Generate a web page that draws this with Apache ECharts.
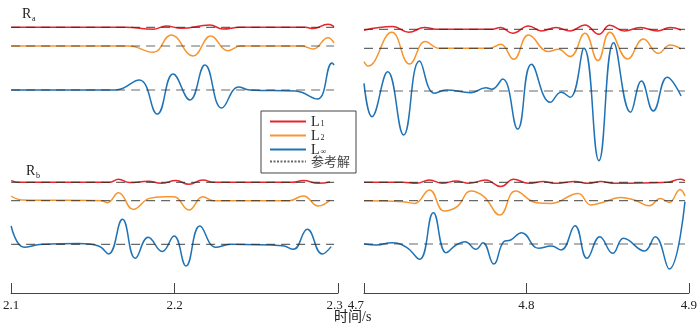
<!DOCTYPE html>
<html><head><meta charset="utf-8">
<script src="https://cdn.jsdelivr.net/npm/echarts@6/dist/echarts.min.js"></script>
<style>html,body{margin:0;padding:0;background:#fff}#c{width:700px;height:326px}</style>
</head><body><div id="c"></div>
<script>
// Tick values of the two time windows (s)
const xTicksLeft = [2.1, 2.2, 2.3];
const xTicksRight = [4.7, 4.8, 4.9];
const seriesNames = ['L1', 'L2', 'L∞', '参考解'];

// Traces: [time (s), deviation from reference]
const Ra_left_L1 = [[2.1,0],[2.170,0],[2.1869,-2],[2.1948,1.3],[2.204,-1],[2.2216,2.3],[2.2295,-1.7],[2.240,0],[2.280,0],[2.2848,-1.3],[2.2939,3],[2.2976,0.7]];
const Ra_left_L2 = [[2.1,0],[2.172,0],[2.1869,-6.3],[2.1979,11],[2.2113,-10],[2.2222,10],[2.2325,-4.7],[2.2404,0],[2.278,0],[2.2848,-3],[2.2939,8.3],[2.2976,3]];
const Ra_left_Linf = [[2.1,0],[2.164,0],[2.1784,10],[2.1894,-24],[2.1991,16],[2.2094,-10],[2.2186,25],[2.2289,-18],[2.2392,3],[2.246,0],[2.274,-1],[2.2873,-9],[2.2964,27],[2.2976,25]];

const Ra_right_L1 = [[4.7,-1],[4.7177,2.7],[4.7275,-3],[4.7372,1.7],[4.746,0],[4.778,0],[4.7842,1.7],[4.7915,-4],[4.8013,3.3],[4.8092,-1.7],[4.8183,1.7],[4.8269,-1.7],[4.836,4.3],[4.8446,-5],[4.8513,4],[4.8604,-1.7],[4.8702,1.7],[4.8806,-1.7],[4.8885,1.7],[4.8952,-0.7]];
const Ra_right_L2 = [[4.7,-13.3],[4.7024,-17.7],[4.7171,16],[4.7281,-15.7],[4.7378,6.7],[4.7464,0],[4.777,0],[4.7842,4],[4.7921,-11],[4.8013,13.3],[4.8135,-3.3],[4.8196,-1],[4.8269,-8.3],[4.836,15],[4.844,-12.3],[4.8513,16],[4.8623,-10.7],[4.872,9.3],[4.8812,-5],[4.8885,3.3],[4.8952,-0.7]];
const Ra_right_Linf = [[4.7,7.7],[4.7049,-25.7],[4.7146,19.3],[4.7244,-44],[4.7342,30],[4.7433,-2.3],[4.7506,1],[4.7659,-1.7],[4.775,3.3],[4.7787,1.7],[4.7854,12],[4.7946,-38],[4.8031,26.7],[4.8147,-11.3],[4.8214,-1.3],[4.8269,-6.3],[4.8354,42.7],[4.8446,-69.7],[4.8537,48.3],[4.8641,-21.3],[4.8708,10],[4.8781,-20],[4.8867,13.7],[4.8952,-5]];

const Rb_left_L1 = [[2.1,1.7],[2.105,0],[2.16,0],[2.1657,3],[2.1724,-0.3],[2.1839,1],[2.1918,-1],[2.2009,1.7],[2.2088,-2],[2.2173,2.3],[2.224,0],[2.272,0],[2.2788,1.7],[2.2879,-1],[2.2952,0.3]];
const Rb_left_L2 = [[2.1,4.7],[2.1067,0.7],[2.1553,0],[2.159,-2],[2.1657,8],[2.1748,-8.7],[2.1845,2.3],[2.1936,4],[2.1997,4],[2.2088,-9.3],[2.2173,4],[2.224,0],[2.27,0],[2.2788,4.7],[2.2879,-5.3],[2.2952,0.7]];
const Rb_left_Linf = [[2.1,18.3],[2.1079,-3],[2.119,0],[2.1413,0.7],[2.1535,-1.7],[2.1596,-9.7],[2.1681,25],[2.176,-14],[2.1839,7],[2.1924,-7.3],[2.1997,8.3],[2.207,-21.7],[2.2155,18.3],[2.2252,-3],[2.2344,0],[2.266,-1.5],[2.2727,-5],[2.2812,15],[2.2903,-9.7],[2.2958,-2.3]];

const Rb_right_L1 = [[4.7,0],[4.7238,0],[4.7323,-1],[4.7403,2.3],[4.7482,-1],[4.7567,1.3],[4.7647,-1],[4.775,2.3],[4.7842,-4.3],[4.7921,3],[4.8013,-1],[4.8104,0.7],[4.8177,-1],[4.8299,0.7],[4.8379,-1],[4.8458,0.7],[4.8543,-1],[4.8867,0],[4.8946,3],[4.8976,1.7]];
const Rb_right_L2 = [[4.7,0],[4.7238,-1],[4.7311,-2.7],[4.7403,10.7],[4.7494,-10.3],[4.7573,-6],[4.7659,9.7],[4.7738,4],[4.7836,-14.3],[4.7933,9.7],[4.8061,-2],[4.8153,-2.7],[4.8318,7.3],[4.8397,-4.3],[4.8482,-1],[4.858,3.3],[4.8665,0.7],[4.8757,-5],[4.8824,2.3],[4.8879,-1.7],[4.8946,11.3],[4.8976,4.7]];
const Rb_right_Linf = [[4.7,0],[4.7079,-1],[4.7171,1.3],[4.7262,-3.3],[4.7342,-15.3],[4.7427,31.3],[4.7506,-8.7],[4.7567,-1],[4.7622,2.3],[4.7689,-5.3],[4.7732,1.3],[4.7799,-20],[4.786,2.3],[4.7903,4],[4.797,11.3],[4.8074,-4.3],[4.8153,-2],[4.8214,-6],[4.8299,18.3],[4.8373,-14.3],[4.8452,7.3],[4.8531,-9.3],[4.8598,5.7],[4.8726,-7],[4.8793,7.3],[4.8879,-25],[4.8976,42.3]];

// Reference solution (zero deviation) over each window
const ref_left = [[2.1,0],[2.2976,0]];
const ref_right = [[4.7,0],[4.8976,0]];

// ---- layout (vertical offsets of each trace, in axis units) ----
const colors = {'L1':'#e5262b', 'L2':'#f7952f', 'L∞':'#1f72b6', '参考解':'rgba(45,45,45,0.72)'};
const panels = [
  {g:0, ref:ref_left,  rows:[['L1',Ra_left_L1,265.7],['L2',Ra_left_L2,247],['L∞',Ra_left_Linf,203]]},
  {g:1, ref:ref_right, rows:[['L1',Ra_right_L1,263.7],['L2',Ra_right_L2,244.7],['L∞',Ra_right_Linf,202]]},
  {g:0, ref:ref_left,  rows:[['L1',Rb_left_L1,110.7],['L2',Rb_left_L2,92.3],['L∞',Rb_left_Linf,48.7]]},
  {g:1, ref:ref_right, rows:[['L1',Rb_right_L1,110.7],['L2',Rb_right_L2,92.3],['L∞',Rb_right_Linf,49]]}
];

const series = [];
panels.forEach(p => {
  p.rows.slice().reverse().forEach(([name, data, base]) => {
    series.push({type:'line', name, xAxisIndex:p.g, yAxisIndex:p.g, smooth:0.45, symbol:'none', clip:false,
      data:data.map(d => [d[0], base + d[1]]), lineStyle:{width:1.5, color:colors[name]}, itemStyle:{color:colors[name]}, z:2});
  });
});
panels.forEach(p => {
  p.rows.forEach(([name, data, base]) => {
    series.push({type:'line', name:'参考解', xAxisIndex:p.g, yAxisIndex:p.g, symbol:'none', silent:true,
      data:p.ref.map(d => [d[0], base + d[1]]), lineStyle:{width:1.2, type:[9,6], color:colors['参考解']}, itemStyle:{color:'#333'}, z:3});
  });
});

const serif = '"Liberation Serif","Noto Sans CJK SC",serif';
function xAxis(g, ticks, minAlign, maxPad) {
  const last = ticks[ticks.length-1];
  return {gridIndex:g, type:'value', min:ticks[0], max:last, interval:0.1,
    axisLine:{lineStyle:{color:'#444', width:1}},
    axisTick:{inside:true, length:10, lineStyle:{color:'#444'}},
    axisLabel:{formatter:v => (maxPad && Math.abs(v - last) < 1e-6) ? '{p|' + v.toFixed(1) + '}' : v.toFixed(1),
      color:'#222', fontSize:13, fontFamily:serif, margin:6,
      rich:{p:{fontSize:13, fontFamily:serif, color:'#222', padding:[0,maxPad||0,0,0]}},
      showMinLabel:true, showMaxLabel:true, alignMinLabel:minAlign, alignMaxLabel:'center', hideOverlap:false},
    splitLine:{show:false}};
}
const subRich = {
  m:{fontSize:14, fontFamily:serif, color:'#222', verticalAlign:'top', lineHeight:13},
  s:{fontSize:8, fontFamily:serif, color:'#222', verticalAlign:'bottom', lineHeight:8, padding:[7,0,0,1]},
  c:{fontSize:13, fontFamily:'"Noto Sans CJK SC"', color:'#444', lineHeight:13}
};

const chart = echarts.init(document.getElementById('c'), null, {renderer:'canvas'});
chart.setOption({
  animation:false,
  backgroundColor:'#fff',
  grid:[{left:9, top:0, width:329, height:293}, {left:364, top:0, width:328, height:293}],
  xAxis:[xAxis(0, xTicksLeft, 'center', 7), xAxis(1, xTicksRight, 'right', 0)],
  yAxis:[{gridIndex:0, type:'value', min:0, max:293, show:false}, {gridIndex:1, type:'value', min:0, max:293, show:false}],
  legend:{
    data:[{name:'L1'},{name:'L2'},{name:'L∞'},{name:'参考解', lineStyle:{type:[2,1.5]}}],
    orient:'vertical', left:261, top:111, padding:[2,6,5,8], itemGap:-2, itemWidth:36, itemHeight:10,
    itemStyle:{opacity:0, borderWidth:0},
    backgroundColor:'#fff', borderColor:'#444', borderWidth:1, borderRadius:0,
    formatter:n => n === '参考解' ? '{c|参考解}' : '{m|L}{s|' + n.slice(1) + '}',
    textStyle:{fontFamily:serif, fontSize:13, color:'#222', rich:subRich}
  },
  graphic:[
    {type:'text', left:22, top:7, style:{text:'R', font:'14px ' + serif, fill:'#222'}},
    {type:'text', left:32, top:15, style:{text:'a', font:'8px ' + serif, fill:'#222'}},
    {type:'text', left:26, top:164, style:{text:'R', font:'14px ' + serif, fill:'#222'}},
    {type:'text', left:36, top:172, style:{text:'b', font:'8px ' + serif, fill:'#222'}},
    {type:'text', left:334, top:310, style:{text:'时间/s', font:'14px ' + serif, fill:'#222'}}
  ],
  series
});
</script></body></html>
